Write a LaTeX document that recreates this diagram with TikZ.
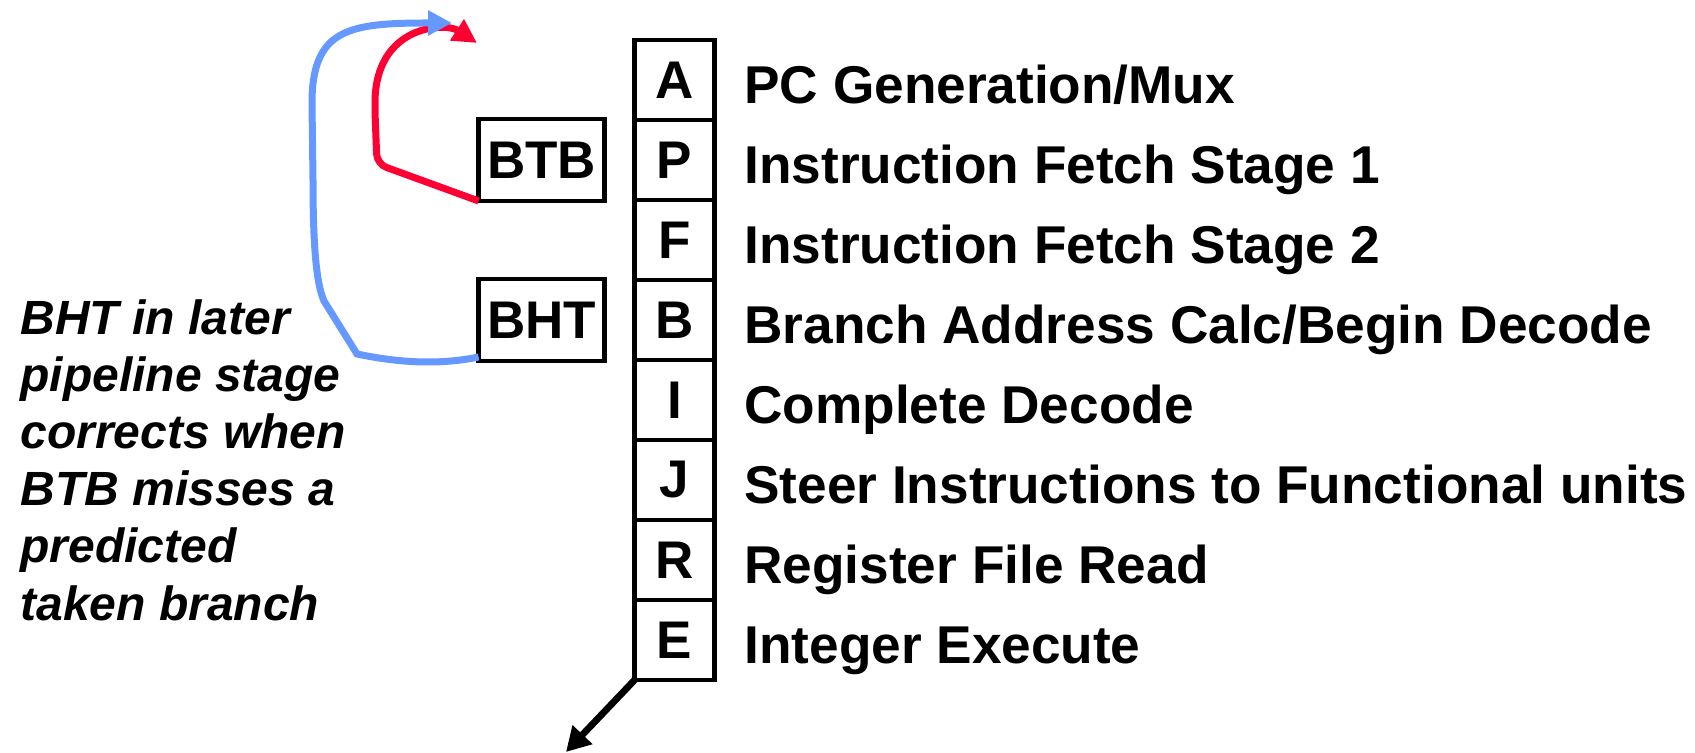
\documentclass[tikz,border=0pt]{standalone}
\usepackage{fontspec}
\setmainfont{Liberation Sans}
\usetikzlibrary{arrows.meta,positioning}
\definecolor{ink}{HTML}{000000}
\definecolor{predred}{HTML}{FF0033}
\definecolor{corrblue}{HTML}{6699FF}
\tikzset{
  stagebox/.style={draw=ink,line width=2.25pt,minimum size=40pt,inner sep=0pt,outer sep=0pt,font=\fontsize{26.5}{32}\selectfont\bfseries},
  tablebox/.style={stagebox,minimum width=63pt,minimum height=41pt},
  stagetext/.style={anchor=base west,inner sep=0pt,font=\fontsize{26.6}{32}\selectfont\bfseries},
  note/.style={anchor=north west,align=left,inner sep=0pt,font=\fontsize{24}{28.6}\selectfont\bfseries\itshape},
  predarrow/.style={-{Triangle[length=12pt,width=12pt]},line width=3.5pt,draw=#1},
  outarrow/.style={-{Triangle[length=12pt,width=13pt]},line width=3.4pt,draw=ink}
}
\begin{document}
\begin{tikzpicture}[x=0.5pt,y=0.5pt]
        \useasboundingbox (0,0) rectangle (1695,753);

        % pipeline stages
        \foreach \s/\t [count=\i from 0] in {A/{PC Generation/Mux},P/{Instruction Fetch Stage 1},F/{Instruction Fetch Stage 2},B/{Branch Address Calc/Begin Decode},I/{Complete Decode},J/{Steer Instructions to Functional units},R/{Register File Read},E/{Integer Execute}}{
          \node[stagebox] (\s) at (674.6,673-80*\i) {\s};
          \node[stagetext] (lbl\s) at ([xshift=14.7pt,yshift=-12pt]\s.east) {\t};
        }

        % predictors
        \node[tablebox,left=15pt of P] (btb) {BTB};
        \node[tablebox,left=15pt of B] (bht) {BHT};

        \node[note] (why) at (20,454) {BHT in later\\pipeline stage\\corrects when\\BTB misses a\\predicted\\taken branch};

        \coordinate (redtip) at (477,710);
        \coordinate (bluetip) at (452,730);
        \coordinate (out) at (566,1);

        \draw[predarrow=predred,rounded corners=5pt] (btb.south west) -- (377,589) -- (375,640)
          .. controls (375,728) and (445,731) .. (redtip);
        \draw[predarrow=corrblue] ([yshift=2pt]bht.south west) .. controls (440,388) and (400,390) .. (357,399)
          -- (324,452) .. controls (316,470) and (313,510) .. (313,573) -- (312,650)
          .. controls (312,725) and (350,730) .. (bluetip);
        \draw[outarrow] (E.south west) -- (out);
      \end{tikzpicture}
\end{document}
